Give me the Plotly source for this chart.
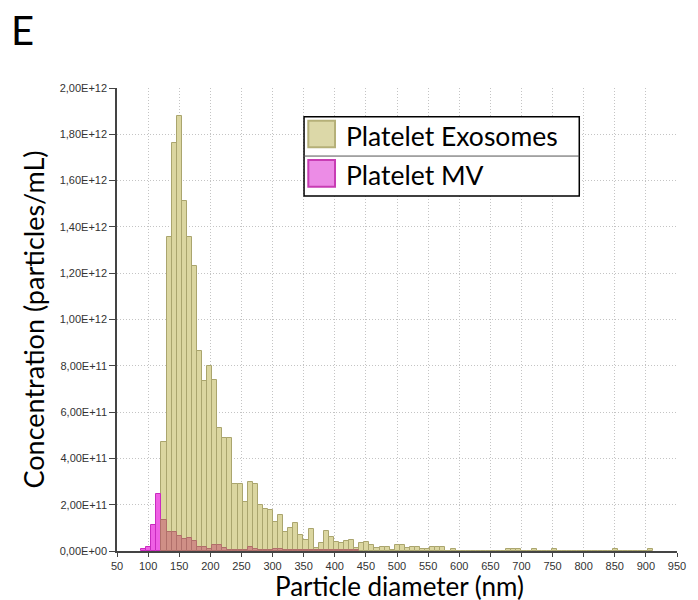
import plotly.graph_objects as go

# ---------------- data ----------------
BIN_W = 8.15            # histogram bin width (nm)
EXO_START = 125.5       # centre of first exosome bin (nm)
MV_START = 92.95        # centre of first MV bin (nm)

exosomes = [  # x 1e12 particles/mL
    0.470, 1.358, 1.761, 1.880, 1.514, 1.358, 1.230, 0.863, 0.734, 0.798,
    0.737, 0.530, 0.488, 0.488, 0.290, 0.288, 0.211, 0.299, 0.291, 0.197,
    0.183, 0.178, 0.125, 0.154, 0.082, 0.101, 0.121, 0.070, 0.046, 0.095,
    0.014, 0.035, 0.085, 0.060, 0.039, 0.035, 0.042, 0.049, 0.012, 0.035,
    0.040, 0.026, 0.013, 0.016, 0.016, 0.003, 0.026, 0.026, 0.012, 0.016,
    0.016, 0.009, 0.009, 0.016, 0.016, 0.016, 0.000, 0.009, 0.000, 0.000,
    0.000, 0.000, 0.000, 0.000, 0.000, 0.000, 0.000, 0.000, 0.008, 0.008,
    0.008, 0.000, 0.000, 0.008, 0.000, 0.000, 0.000, 0.008, 0.000, 0.000,
    0.000, 0.000, 0.000, 0.000, 0.000, 0.000, 0.000, 0.000, 0.000, 0.008,
    0.000, 0.000, 0.000, 0.000, 0.000, 0.000, 0.008,
]

mv = [  # x 1e12 particles/mL
    0.007, 0.017, 0.114, 0.245, 0.132, 0.082, 0.082, 0.065, 0.053, 0.058,
    0.045, 0.017, 0.017, 0.010, 0.028, 0.024, 0.012, 0.005, 0.004, 0.004,
    0.003, 0.017, 0.008, 0.003, 0.003, 0.003, 0.009, 0.009, 0.003, 0.003,
    0.003, 0.003, 0.003, 0.003, 0.003, 0.003, 0.003, 0.003, 0.003, 0.003,
    0.006, 0.006, 0.004,
]

x_ticks = [50, 100, 150, 200, 250, 300, 350, 400, 450, 500, 550, 600, 650,
           700, 750, 800, 850, 900, 950]
y_tickvals = [0, 2e11, 4e11, 6e11, 8e11, 1e12, 1.2e12, 1.4e12, 1.6e12, 1.8e12, 2e12]
y_ticktext = ["0,00E+00", "2,00E+11", "4,00E+11", "6,00E+11", "8,00E+11",
              "1,00E+12", "1,20E+12", "1,40E+12", "1,60E+12", "1,80E+12", "2,00E+12"]

series_names = ["Platelet Exosomes", "Platelet MV"]

# ---------------- styles ----------------
EXO_FILL = "#dbd6a0"
EXO_LINE = "#aaa56e"
MV_FILL = "#ef5fe4"
MV_LINE = "#c92bbf"
MIX_FILL = "#cf8f86"
MIX_LINE = "#b06f6a"

offset = round((EXO_START - MV_START) / BIN_W)
mv_fill = [MIX_FILL if i >= offset else MV_FILL for i in range(len(mv))]
mv_line = [MIX_LINE if i >= offset else MV_LINE for i in range(len(mv))]

fig = go.Figure()
fig.add_trace(go.Bar(
    y=[v * 1e12 for v in exosomes], x0=EXO_START, dx=BIN_W,
    name=series_names[0], marker=dict(color=EXO_FILL, line=dict(color=EXO_LINE, width=1)),
    showlegend=False,
))
fig.add_trace(go.Bar(
    y=[v * 1e12 for v in mv], x0=MV_START, dx=BIN_W,
    name=series_names[1], marker=dict(color=mv_fill, line=dict(color=mv_line, width=1)),
    showlegend=False,
))

TITLE_FONT = "Lato, 'Open Sans', sans-serif"
TICK_FONT = dict(family="Arial, 'Liberation Sans', sans-serif", size=11, color="#333333")
GRID = "#c4c4c4"
GRID_DASH = "1px,2px"

# page body has an 8px margin, so the figure is sized/offset to compensate
fig.update_layout(
    width=690, height=592,
    margin=dict(l=109, r=21, t=80, b=49),
    paper_bgcolor="white", plot_bgcolor="white",
    barmode="overlay", bargap=0,
    xaxis=dict(
        range=[50, 950], tickvals=x_ticks, ticks="outside", ticklen=4,
        tickcolor="#444", tickfont=TICK_FONT,
        showline=True, linecolor="#444", linewidth=1.5,
        showgrid=True, gridcolor=GRID, griddash=GRID_DASH, gridwidth=1,
        zeroline=False,
    ),
    yaxis=dict(
        range=[0, 2e12], tickvals=y_tickvals, ticktext=y_ticktext,
        ticks="outside", ticklen=6, tickcolor="#444", tickfont=TICK_FONT,
        showline=True, linecolor="#444", linewidth=1.5,
        showgrid=True, gridcolor=GRID, griddash=GRID_DASH, gridwidth=1,
        zeroline=False,
    ),
)

# axis titles and panel letter
fig.add_annotation(text="Concentration (particles/mL)", xref="paper", yref="paper",
                   x=-0.15, y=0.5, textangle=-90, showarrow=False,
                   font=dict(family=TITLE_FONT, size=27, color="black"),
                   xanchor="center", yanchor="middle")
fig.add_annotation(text="Particle diameter (nm)", xref="paper", yref="paper",
                   x=0.505, y=-0.074, showarrow=False, height=29,
                   font=dict(family=TITLE_FONT, size=26, color="black"),
                   xanchor="center", yanchor="middle")
fig.add_annotation(text="E", xref="paper", yref="paper",
                   x=-0.168, y=1.126, showarrow=False, height=40,
                   font=dict(family=TITLE_FONT, size=40, color="black"),
                   xanchor="center", yanchor="middle")

# custom legend box
LX0, LX1 = 0.334, 0.8255
LY0, LY1, LDIV = 0.7667, 0.938, 0.853
fig.add_shape(type="rect", xref="paper", yref="paper", x0=LX0, x1=LX1, y0=LY0, y1=LY1,
              line=dict(color="black", width=1.5), fillcolor="white", layer="above")
fig.add_shape(type="line", xref="paper", yref="paper", x0=LX0, x1=LX1, y0=LDIV, y1=LDIV,
              line=dict(color="#555", width=1), layer="above")
fig.add_shape(type="rect", xref="paper", yref="paper", x0=0.3416, x1=0.3893, y0=0.8719, y1=0.9294,
              line=dict(color="#b5b078", width=2), fillcolor="#dcd8a8", layer="above")
fig.add_shape(type="rect", xref="paper", yref="paper", x0=0.3416, x1=0.3893, y0=0.7868, y1=0.8445,
              line=dict(color="#c83cb4", width=2), fillcolor="#ec8ce6", layer="above")
fig.add_annotation(text=series_names[0], xref="paper", yref="paper", x=0.406, y=0.897,
                   showarrow=False, xanchor="left", yanchor="middle",
                   font=dict(family=TITLE_FONT, size=26.5, color="black"))
fig.add_annotation(text=series_names[1], xref="paper", yref="paper", x=0.406, y=0.812,
                   showarrow=False, xanchor="left", yanchor="middle",
                   font=dict(family=TITLE_FONT, size=26.5, color="black"))

fig.write_html("out.html")
